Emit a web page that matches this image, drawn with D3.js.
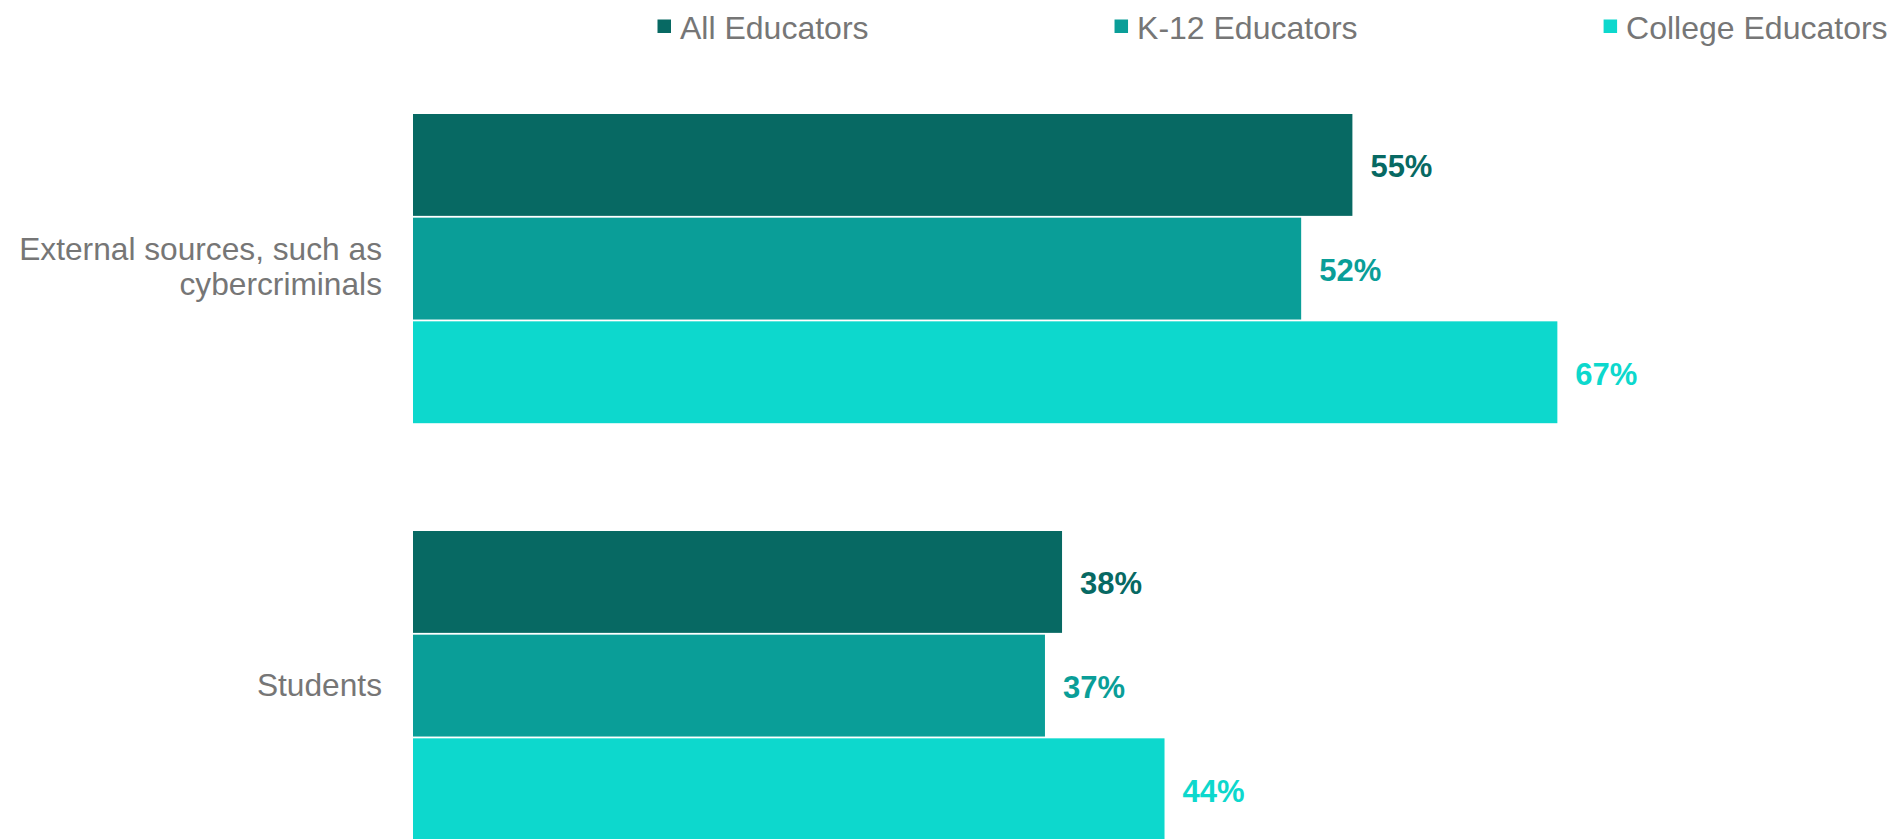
<!DOCTYPE html>
<html>
<head>
<meta charset="utf-8">
<script src="https://cdn.jsdelivr.net/npm/d3@7"></script>
<style>
  body { margin: 0; background: #fff; overflow: hidden; }
  text { font-family: "Liberation Sans", Arial, sans-serif; }
</style>
</head>
<body>
<div id="chart"></div>
<script>
// data
var categories = ["External sources, such as|cybercriminals", "Students"];
var seriesNames = ["All Educators", "K-12 Educators", "College Educators"];
var allEducators = [55, 38];
var k12Educators = [52, 37];
var collegeEducators = [67, 44];
var seriesColors = ["#076963", "#0a9e98", "#0dd8cd"];

var values = [allEducators, k12Educators, collegeEducators];

var width = 1890,
  height = 839;

var svg = d3.select("#chart")
  .append("svg")
  .attr("width", width)
  .attr("height", height);

// x: percentage scale, bars start at 413px
var x = d3.scaleLinear()
  .domain([0, 100])
  .range([413, 2121]);

// y: one band per category, sub bands per series
var y0 = d3.scaleBand()
  .domain(d3.range(categories.length))
  .range([114, 842])
  .paddingInner(0.2542)
  .paddingOuter(0);

var y1 = d3.scaleBand()
  .domain(d3.range(seriesNames.length))
  .range([0, y0.bandwidth()]);

var rows = [];
categories.forEach(function(c, ci) {
  seriesNames.forEach(function(s, si) {
    rows.push({ cat: ci, ser: si, value: values[si][ci] });
  });
});

// bars
svg.append("g")
  .selectAll("rect")
  .data(rows)
  .enter()
  .append("rect")
  .attr("x", x(0))
  .attr("y", function(d) { return y0(d.cat) + y1(d.ser); })
  .attr("width", function(d) { return x(d.value) - x(0); })
  .attr("height", y1.bandwidth() - 1.8)
  .attr("fill", function(d) { return seriesColors[d.ser]; });

// value labels
svg.append("g")
  .selectAll("text")
  .data(rows)
  .enter()
  .append("text")
  .attr("x", function(d) { return x(d.value) + 18; })
  .attr("y", function(d) { return y0(d.cat) + y1(d.ser) + y1.bandwidth() / 2 + 11.5; })
  .attr("fill", function(d) { return seriesColors[d.ser]; })
  .style("font-size", "31px")
  .style("font-weight", "bold")
  .text(function(d) { return d.value + "%"; });

// category labels (right aligned, wrapped on "|")
var catLabels = svg.append("g")
  .selectAll("text")
  .data(categories)
  .enter()
  .append("text")
  .attr("text-anchor", "end")
  .attr("fill", "#767676")
  .style("font-size", "31.7px");

catLabels.each(function(c, i) {
  var lines = c.split("|");
  var mid = y0(i) + y0.bandwidth() / 2;
  var t = d3.select(this);
  lines.forEach(function(line, li) {
    t.append("tspan")
      .attr("x", 382)
      .attr("y", mid + 9 + (li - (lines.length - 1) / 2) * 35 - (lines.length > 1 ? 1 : 0))
      .text(line);
  });
});

// legend across the top
var legend = svg.append("g");
var lx = 657.5;
seriesNames.forEach(function(name, i) {
  legend.append("rect")
    .attr("x", lx)
    .attr("y", 19.5)
    .attr("width", 13.5)
    .attr("height", 13.5)
    .attr("fill", seriesColors[i]);
  var t = legend.append("text")
    .attr("x", lx + 22.5)
    .attr("y", 39)
    .attr("fill", "#767676")
    .style("font-size", "32px")
    .text(name);
  lx = lx + 22.5 + t.node().getComputedTextLength() + 246;
});
</script>
</body>
</html>
